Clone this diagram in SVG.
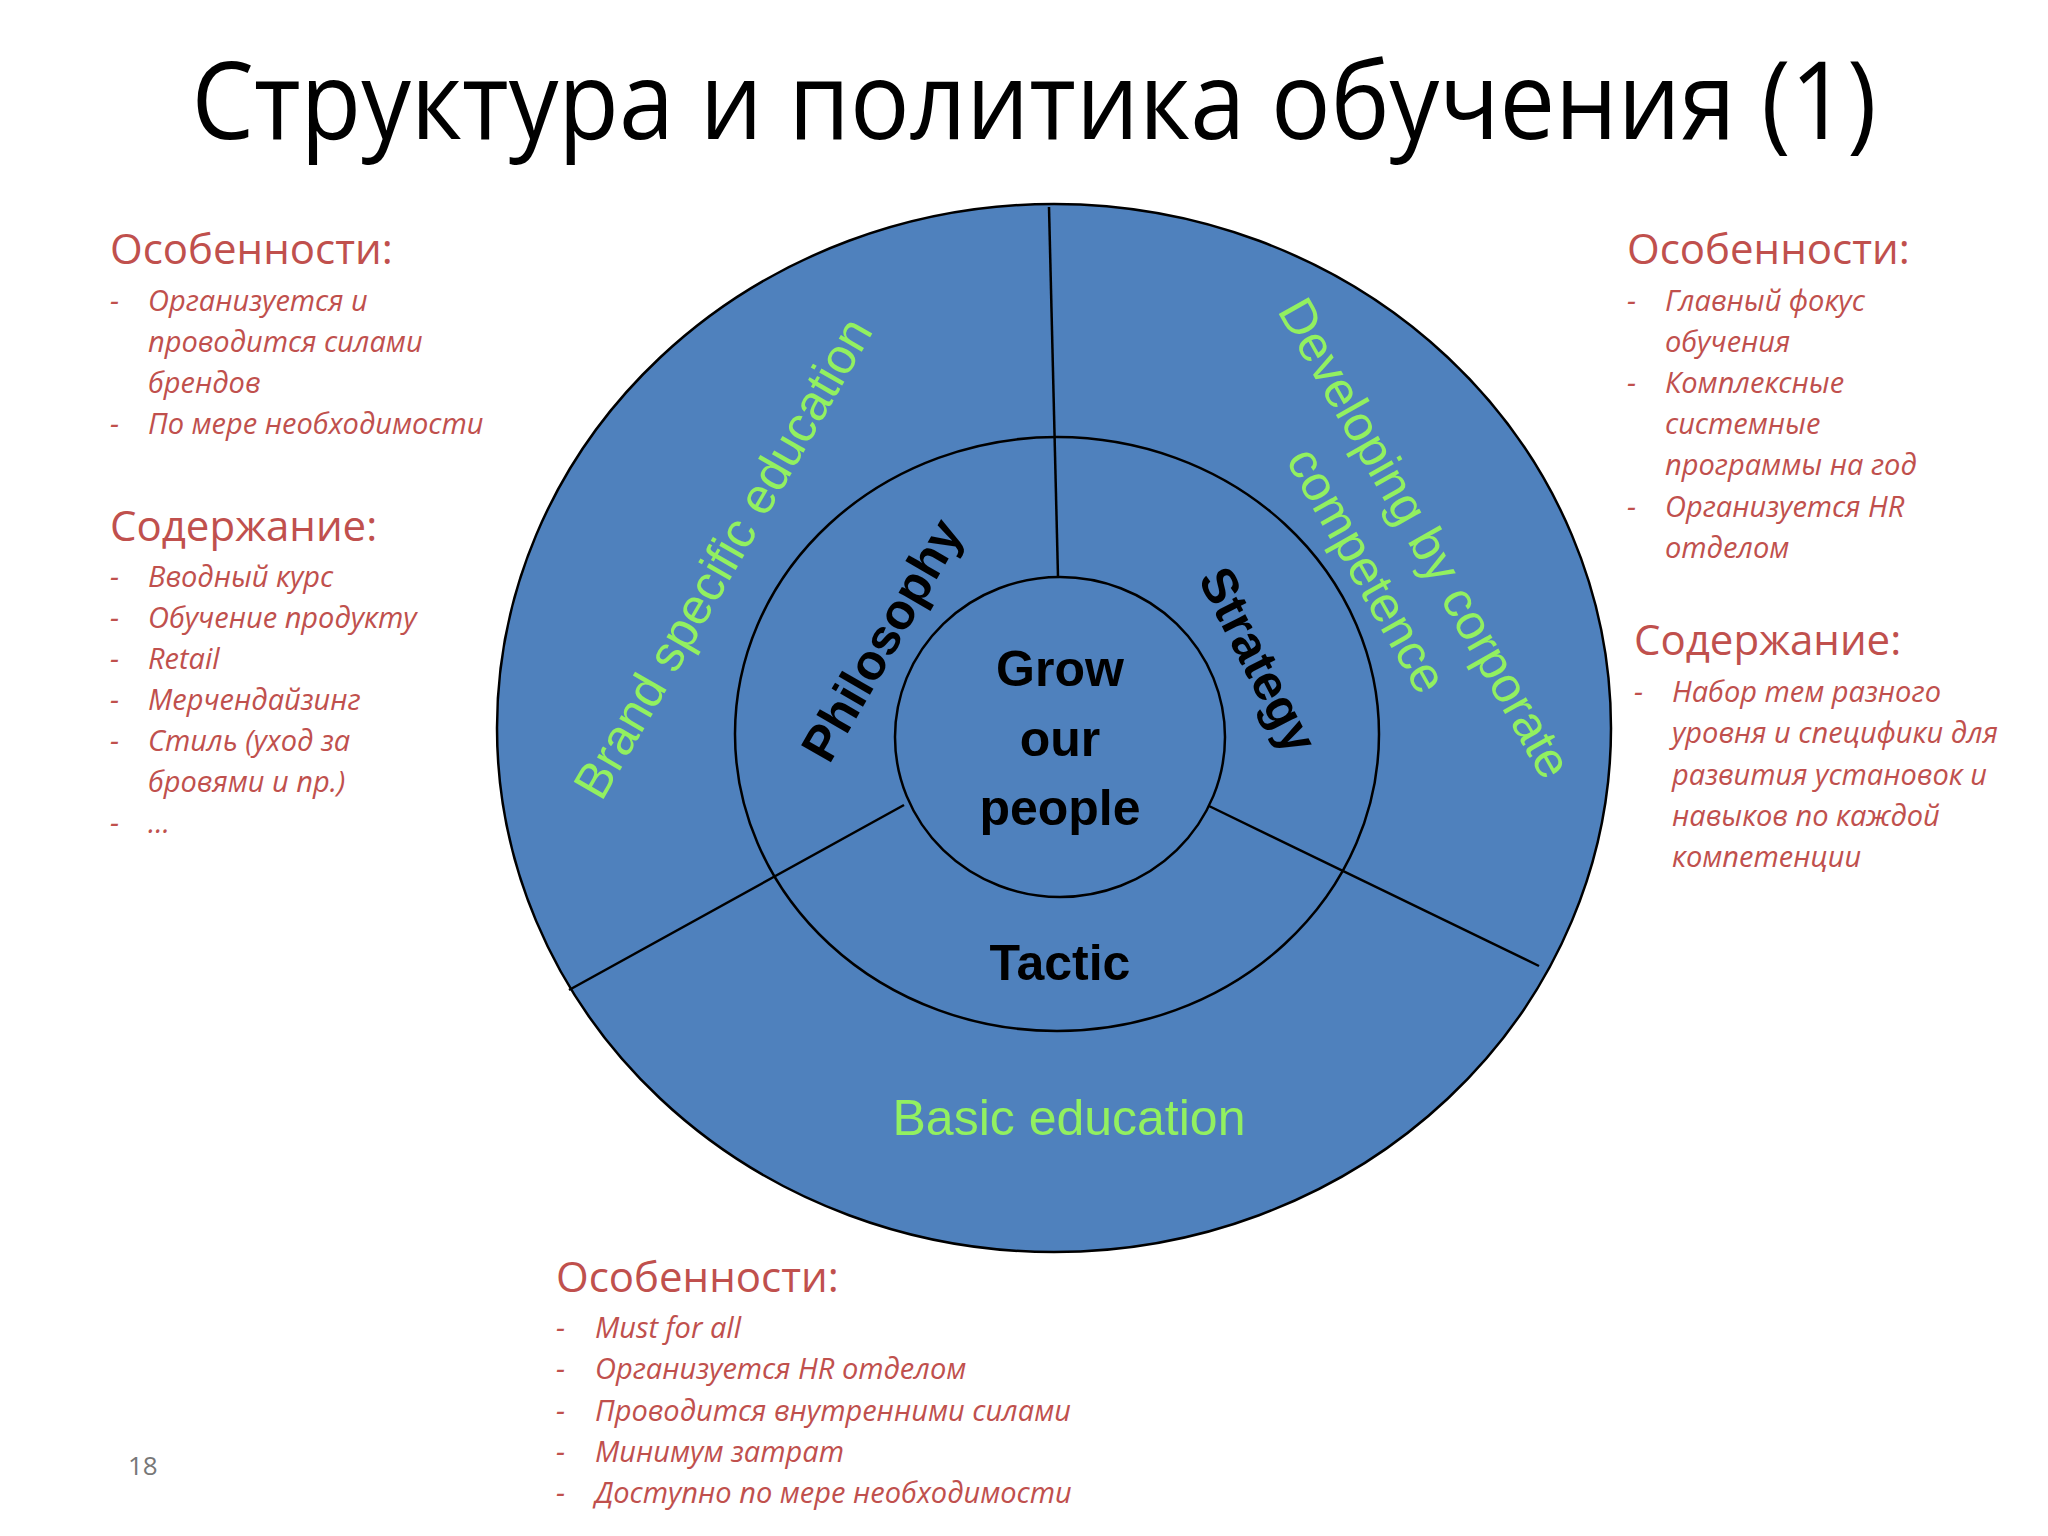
<svg xmlns="http://www.w3.org/2000/svg" width="2048" height="1536" viewBox="0 0 2048 1536">
<style>
.sh{fill:#4f81bd;stroke:#000;stroke-width:2.5}
.ln{stroke:#000;stroke-width:2.5;fill:none}
.h{font-family:"Open Sans",sans-serif;font-size:42px;fill:#c0504d}
.i{font-family:"Open Sans",sans-serif;font-size:29px;font-style:italic;fill:#c0504d}
.g{font-family:"Liberation Sans",Arial,sans-serif;font-size:50px;fill:#92f060}
.b{font-family:"Liberation Sans",Arial,sans-serif;font-size:50px;font-weight:bold;fill:#000}
</style>
<rect width="2048" height="1536" fill="#fff"/>
<text x="1034" y="139" text-anchor="middle" font-family="Open Sans,sans-serif" font-size="108" textLength="1685" lengthAdjust="spacingAndGlyphs">Структура и политика обучения (1)</text>
<g id="outer"><ellipse class="sh" cx="1054" cy="728" rx="557" ry="524"/></g>
<g id="middle"><ellipse class="sh" cx="1057" cy="734" rx="322" ry="297"/></g>
<g id="inner"><ellipse class="sh" cx="1060" cy="737" rx="165" ry="160"/></g>
<g id="connectors">
<line class="ln" x1="1049" y1="207" x2="1058" y2="577"/>
<line class="ln" x1="569" y1="990" x2="904" y2="805"/>
<line class="ln" x1="1209" y1="806" x2="1539" y2="966"/>
</g>
<g id="labels">
<text class="g" transform="translate(723,558) rotate(-60)" text-anchor="middle" dominant-baseline="central">Brand specific education</text>
<text class="g" transform="translate(1425,538) rotate(60.5)" text-anchor="middle" dominant-baseline="central">Developing by corporate</text>
<text class="g" transform="translate(1367,570) rotate(60.5)" text-anchor="middle" dominant-baseline="central">competence</text>
<text class="g" x="1069" y="1135" text-anchor="middle">Basic education</text>
<text class="b" transform="translate(882,640) rotate(-60)" text-anchor="middle" dominant-baseline="central">Philosophy</text>
<text class="b" transform="translate(1258,660) rotate(63)" text-anchor="middle" dominant-baseline="central">Strategy</text>
<text class="b" x="1060" y="980" text-anchor="middle">Tactic</text>
<text class="b" x="1060" y="686" text-anchor="middle">Grow</text>
<text class="b" x="1060" y="756" text-anchor="middle">our</text>
<text class="b" x="1060" y="825" text-anchor="middle">people</text>
</g>
<g id="left">
<text class="h" x="110" y="264">Особенности:</text>
<text class="i" x="110" y="311">-</text><text class="i" x="148" y="311">Организуется и</text>
<text class="i" x="148" y="352">проводится силами</text>
<text class="i" x="148" y="393">брендов</text>
<text class="i" x="110" y="434">-</text><text class="i" x="148" y="434">По мере необходимости</text>
<text class="h" x="110" y="541">Содержание:</text>
<text class="i" x="110" y="587">-</text><text class="i" x="148" y="587">Вводный курс</text>
<text class="i" x="110" y="628">-</text><text class="i" x="148" y="628">Обучение продукту</text>
<text class="i" x="110" y="669">-</text><text class="i" x="148" y="669">Retail</text>
<text class="i" x="110" y="710">-</text><text class="i" x="148" y="710">Мерчендайзинг</text>
<text class="i" x="110" y="751">-</text><text class="i" x="148" y="751">Стиль (уход за</text>
<text class="i" x="148" y="792">бровями и пр.)</text>
<text class="i" x="110" y="833">-</text><text class="i" x="148" y="833">…</text>
</g>
<g id="right">
<text class="h" x="1627" y="264">Особенности:</text>
<text class="i" x="1627" y="311">-</text><text class="i" x="1665" y="311">Главный фокус</text>
<text class="i" x="1665" y="352">обучения</text>
<text class="i" x="1627" y="393">-</text><text class="i" x="1665" y="393">Комплексные</text>
<text class="i" x="1665" y="434">системные</text>
<text class="i" x="1665" y="475">программы на год</text>
<text class="i" x="1627" y="517">-</text><text class="i" x="1665" y="517">Организуется HR</text>
<text class="i" x="1665" y="558">отделом</text>
<text class="h" x="1634" y="655">Содержание:</text>
<text class="i" x="1634" y="702">-</text><text class="i" x="1672" y="702">Набор тем разного</text>
<text class="i" x="1672" y="743">уровня и специфики для</text>
<text class="i" x="1672" y="785">развития установок и</text>
<text class="i" x="1672" y="826">навыков по каждой</text>
<text class="i" x="1672" y="867">компетенции</text>
</g>
<g id="bottom">
<text class="h" x="556" y="1292">Особенности:</text>
<text class="i" x="556" y="1338">-</text><text class="i" x="595" y="1338">Must for all</text>
<text class="i" x="556" y="1379">-</text><text class="i" x="595" y="1379">Организуется HR отделом</text>
<text class="i" x="556" y="1421">-</text><text class="i" x="595" y="1421">Проводится внутренними силами</text>
<text class="i" x="556" y="1462">-</text><text class="i" x="595" y="1462">Минимум затрат</text>
<text class="i" x="556" y="1503">-</text><text class="i" x="595" y="1503">Доступно по мере необходимости</text>
</g>
<text x="128" y="1475" font-family="Open Sans,sans-serif" font-size="26" fill="#777">18</text>
</svg>
